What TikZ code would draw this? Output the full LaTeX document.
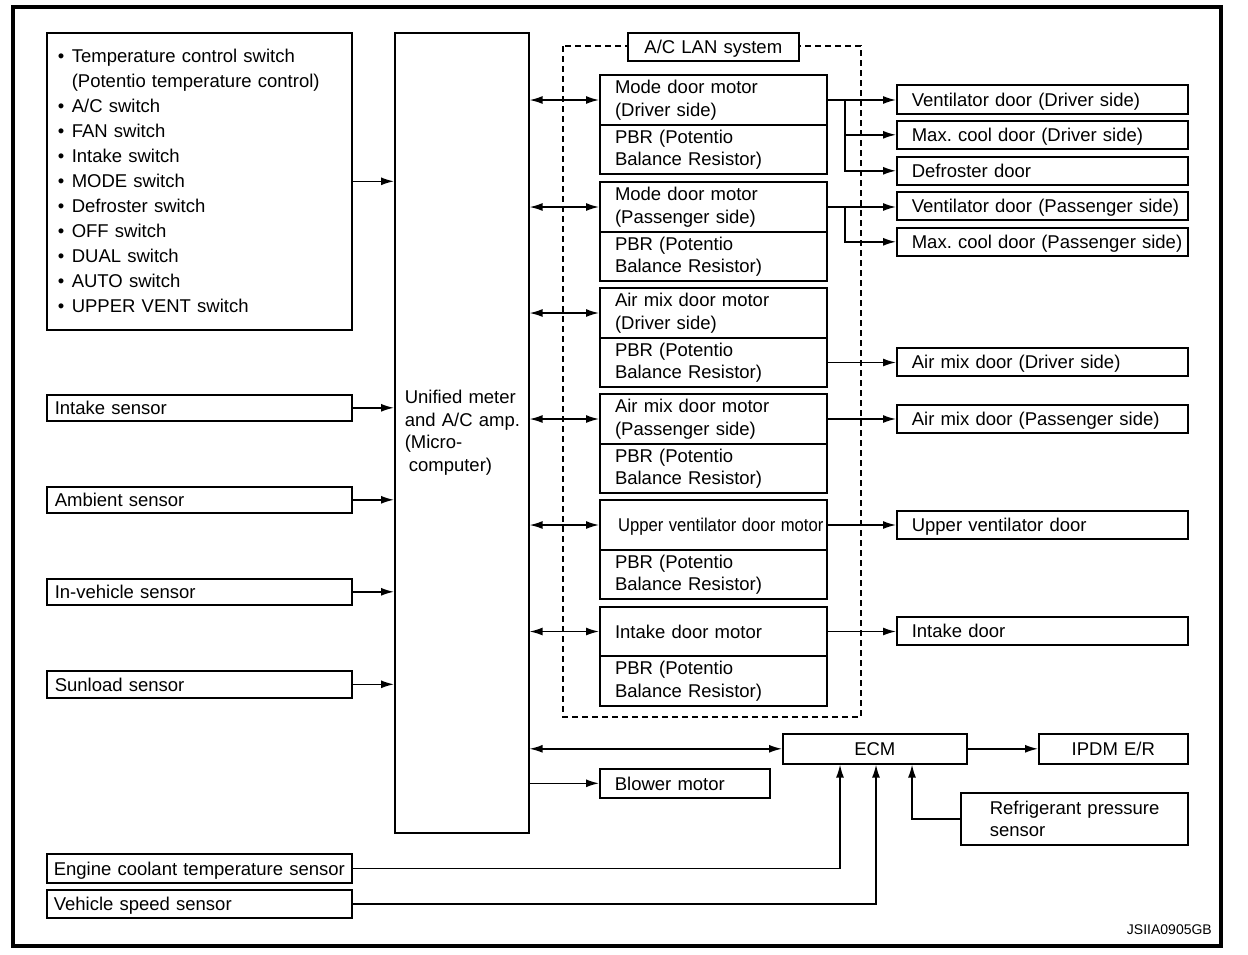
\documentclass[tikz,border=0pt]{standalone}
\usepackage{fontspec}
\setmainfont{Liberation Sans}
\usetikzlibrary{arrows.meta,calc}
\frenchspacing
\newcommand\fsz{\fontsize{18.5}{22.5}\selectfont}
\newcommand\ind[1]{\hspace*{#1pt}}
\tikzset{
  bx/.style={draw, line width=1.6pt, anchor=north west, inner sep=0pt, align=left, font=\fsz},
  one/.style={text height=13.5pt, text depth=0pt},
  mbx/.style={bx, line width=2pt, text width=227, minimum height=50},
  pbx/.style={bx, line width=2pt, text width=227, minimum height=49},
  rbx/.style={bx, one, text width=291, minimum height=28},
  sbx/.style={bx, one, text width=305, minimum height=26},
  cbx/.style={draw, line width=1.6pt, anchor=north west, inner sep=0pt, align=center, font=\fsz},
  conn/.style={line width=1.5pt},
  arr/.style={conn, -{Latex[length=13pt,width=8pt]}},
  darr/.style={conn, {Latex[length=13pt,width=8pt]}-{Latex[length=13pt,width=8pt]}},
}
\begin{document}
\begin{tikzpicture}[x=1pt,y=-1pt]
\useasboundingbox (0,0) rectangle (1248,954);
% frame
\draw[line width=4pt] (13,7) rectangle (1221,946);
% A/C LAN dashed area
\draw[line width=1.5pt, dash pattern=on 6pt off 4pt] (563,46) rectangle (861,717);
\node[cbx, one, fill=white, text width=171, minimum height=28] (lan) at (627,32) {A/C LAN system};

% left inputs
\node[bx, text width=305, minimum height=297, font={\fontsize{18.5}{25}\selectfont}] (sw) at (46,32)
 {\ind{11}\makebox[14pt][l]{\textbullet}Temperature control switch\\
  \ind{25}(Potentio temperature control)\\
  \ind{11}\makebox[14pt][l]{\textbullet}A/C switch\\
  \ind{11}\makebox[14pt][l]{\textbullet}FAN switch\\
  \ind{11}\makebox[14pt][l]{\textbullet}Intake switch\\
  \ind{11}\makebox[14pt][l]{\textbullet}MODE switch\\
  \ind{11}\makebox[14pt][l]{\textbullet}Defroster switch\\
  \ind{11}\makebox[14pt][l]{\textbullet}OFF switch\\
  \ind{11}\makebox[14pt][l]{\textbullet}DUAL switch\\
  \ind{11}\makebox[14pt][l]{\textbullet}AUTO switch\\
  \ind{11}\makebox[14pt][l]{\textbullet}UPPER VENT switch};
\node[sbx] (isen) at (46,394) {\ind{8}Intake sensor};
\node[sbx] (asen) at (46,486) {\ind{8}Ambient sensor};
\node[sbx] (vsen) at (46,578) {\ind{8}In-vehicle sensor};
\node[sbx, minimum height=27] (ssen) at (46,670) {\ind{8}Sunload sensor};
\node[sbx, minimum height=29] (ect) at (46,853) {\ind{7}Engine coolant temperature sensor};
\node[sbx, minimum height=28] (vss) at (46,889) {\ind{7}Vehicle speed sensor};

% unified meter
\node[bx, text width=134, minimum height=800] (uni) at (394,32)
 {\ind{10}Unified meter\\\ind{10}and A/C amp.\\\ind{10}(Micro-\\\ind{14}computer)};

% motors
\node[mbx] (m1) at (599,74) {\ind{15}Mode door motor\\\ind{15}(Driver side)};
\node[pbx] (p1) at (599,124) {\ind{15}PBR (Potentio\\\ind{15}Balance Resistor)};
\node[mbx] (m2) at (599,181) {\ind{15}Mode door motor\\\ind{15}(Passenger side)};
\node[pbx] (p2) at (599,231) {\ind{15}PBR (Potentio\\\ind{15}Balance Resistor)};
\node[mbx] (m3) at (599,287) {\ind{15}Air mix door motor\\\ind{15}(Driver side)};
\node[pbx] (p3) at (599,337) {\ind{15}PBR (Potentio\\\ind{15}Balance Resistor)};
\node[mbx] (m4) at (599,393) {\ind{15}Air mix door motor\\\ind{15}(Passenger side)};
\node[pbx] (p4) at (599,443) {\ind{15}PBR (Potentio\\\ind{15}Balance Resistor)};
\node[mbx, one] (m5) at (599,499) {\ind{18}\scalebox{0.9}[1]{Upper ventilator door motor}};
\node[pbx] (p5) at (599,549) {\ind{15}PBR (Potentio\\\ind{15}Balance Resistor)};
\node[mbx, one, minimum height=49] (m6) at (599,606) {\ind{15}Intake door motor};
\node[pbx, minimum height=50] (p6) at (599,655) {\ind{15}PBR (Potentio\\\ind{15}Balance Resistor)};

% doors
\node[rbx, minimum height=29] (d1) at (896,84) {\ind{15}Ventilator door (Driver side)};
\node[rbx] (d2) at (896,120) {\ind{15}Max. cool door (Driver side)};
\node[rbx] (d3) at (896,156) {\ind{15}Defroster door};
\node[rbx] (d4) at (896,191) {\ind{15}Ventilator door (Passenger side)};
\node[rbx] (d5) at (896,227) {\ind{15}Max. cool door (Passenger side)};
\node[rbx] (d6) at (896,347) {\ind{15}Air mix door (Driver side)};
\node[rbx] (d7) at (896,404) {\ind{15}Air mix door (Passenger side)};
\node[rbx] (d8) at (896,510) {\ind{15}Upper ventilator door};
\node[rbx] (d9) at (896,616) {\ind{15}Intake door};

% bottom group
\node[cbx, one, text width=184, minimum height=30] (ecm) at (782,733) {ECM};
\node[cbx, one, text width=149, minimum height=30] (ipdm) at (1038,733) {IPDM E/R};
\node[bx, one, text width=170, minimum height=29] (blow) at (599,768) {\ind{15}Blower motor};
\node[bx, text width=227, minimum height=52] (refr) at (960,792) {\ind{29}Refrigerant pressure\\\ind{29}sensor};

\node[inner sep=0pt, anchor=east, font={\fontsize{14}{14}\selectfont}] (code) at (1212,930) {JSIIA0905GB};

% connectors: inputs to unified
\draw[arr] (sw.east) -- (uni.west |- sw.east);
\foreach \s in {isen,asen,vsen,ssen} \draw[arr] (\s.east) -- (uni.west |- \s.east);

% unified <-> motors
\foreach \m in {m1,m2,m3,m4,m5,m6} \draw[darr] (uni.east |- \m.west) -- (\m.west);

% motors to doors
\coordinate (b1) at ($(m1.east)+(17,0)$);
\coordinate (b2) at ($(m2.east)+(17,0)$);
\draw[arr] (m1.east) -- (m1.east -| d1.west);
\draw[arr] (b1) |- (d2.west);
\draw[arr] (b1) |- (d3.west);
\draw[arr] (m2.east) -- (m2.east -| d4.west);
\draw[arr] (b2) |- (d5.west);
\draw[arr] (p3.east) -- (p3.east -| d6.west);
\draw[arr] (m4.east) -- (m4.east -| d7.west);
\draw[arr] (m5.east) -- (m5.east -| d8.west);
\draw[arr] (m6.east) -- (m6.east -| d9.west);

% bottom
\draw[darr] (uni.east |- ecm.west) -- (ecm.west);
\draw[arr] (uni.east |- blow.west) -- (blow.west);
\draw[arr] (ecm.east) -- (ecm.east -| ipdm.west);
\coordinate (e1) at ($(ecm.south west)+(58,0)$);
\coordinate (e2) at ($(ecm.south west)+(94,0)$);
\coordinate (e3) at ($(ecm.south west)+(130,0)$);
\draw[arr] (ect.east) -| (e1);
\draw[arr] (vss.east) -| (e2);
\draw[arr] (refr.west) -| (e3);
\end{tikzpicture}
\end{document}
